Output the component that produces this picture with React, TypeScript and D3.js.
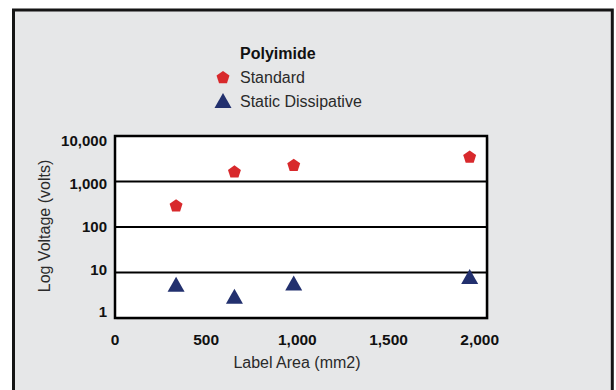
import * as d3 from 'd3';

// Values
const labelAreas = [335, 655, 980, 1945];
const standardVolts = [300, 1675, 2330, 3540];
const dissipativeVolts = [5.5, 3, 5.9, 8.2];
const xTicks = [0, 500, 1000, 1500, 2000];
const yTicks = [1, 10, 100, 1000, 10000];
const legendTitle = 'Polyimide';
const seriesNames = ['Standard', 'Static Dissipative'];

const W = 616;
const H = 390;
const plot = { left: 115, top: 136, right: 487, bottom: 318 };
const RED = '#d8292c';
const NAVY = '#22306e';
const FONT = '"Liberation Sans", Arial, Helvetica, sans-serif';

// Custom symbol shapes (size is used as a radius / half width)
const pentagon = {
  draw(ctx: any, r: number) {
    for (let i = 0; i < 5; i++) {
      const a = -Math.PI / 2 + (i * 2 * Math.PI) / 5;
      const px = r * Math.cos(a);
      const py = r * Math.sin(a) + r * 0.1;
      if (i === 0) ctx.moveTo(px, py);
      else ctx.lineTo(px, py);
    }
    ctx.closePath();
  },
};
const triangle = {
  draw(ctx: any, r: number) {
    const h = r * 0.88;
    ctx.moveTo(0, -h);
    ctx.lineTo(r, h);
    ctx.lineTo(-r, h);
    ctx.closePath();
  },
};

export default function App() {
  const x = d3.scaleLinear().domain([0, 2040]).range([plot.left, plot.right]);
  const y = d3.scaleLog().domain([1, 10000]).range([plot.bottom, plot.top]);
  // tick labels sit a little inside the decade lines in the original
  const yLabel = y.copy().range([312, 140.5]);
  const fmt = d3.format(',');

  const pentPath = d3.symbol().type(pentagon as any).size(6.8)() as string;
  const triPath = d3.symbol().type(triangle as any).size(8.5)() as string;

  return (
    <svg
      width={W}
      height={H}
      style={{ position: 'absolute', left: 0, top: 0, background: '#fff' }}
      fontFamily={FONT}
    >
      {/* outer panel */}
      <rect x={13.5} y={10} width={598.8} height={400} fill="#e6e7e8" stroke="#151515" strokeWidth={3} />

      {/* legend */}
      <text x={240} y={58.5} fontSize={16} fontWeight="bold" fill="#111">
        {legendTitle}
      </text>
      <path d={pentPath} transform="translate(223,77)" fill={RED} />
      <text x={240} y={83} fontSize={16} fill="#2a2a2a">
        {seriesNames[0]}
      </text>
      <path d={triPath} transform="translate(223,100.5)" fill={NAVY} />
      <text x={240} y={107} fontSize={16} fill="#2a2a2a">
        {seriesNames[1]}
      </text>

      {/* plot area */}
      <rect
        x={plot.left + 1.5}
        y={plot.top + 1.5}
        width={plot.right - plot.left}
        height={plot.bottom - plot.top}
        fill="#b8b8b8"
      />
      <rect
        x={plot.left}
        y={plot.top}
        width={plot.right - plot.left}
        height={plot.bottom - plot.top}
        fill="#fff"
      />
      {yTicks.slice(1, -1).map((t) => (
        <line key={t} x1={plot.left} x2={plot.right} y1={y(t)} y2={y(t)} stroke="#000" strokeWidth={2} />
      ))}
      <rect
        x={plot.left}
        y={plot.top}
        width={plot.right - plot.left}
        height={plot.bottom - plot.top}
        fill="none"
        stroke="#000"
        strokeWidth={2.5}
      />

      {/* y tick labels */}
      {yTicks.map((t) => (
        <text
          key={t}
          x={107}
          y={yLabel(t)}
          dy="0.36em"
          textAnchor="end"
          fontSize={15}
          fontWeight="bold"
          fill="#111"
        >
          {fmt(t)}
        </text>
      ))}

      {/* x tick labels */}
      {xTicks.map((t) => (
        <text key={t} x={x(t)} y={345} textAnchor="middle" fontSize={15.5} fontWeight="bold" fill="#111">
          {fmt(t)}
        </text>
      ))}

      {/* axis titles */}
      <text x={297} y={367.5} textAnchor="middle" fontSize={16} fill="#2a2a2a">
        Label Area (mm2)
      </text>
      <text
        transform="translate(50,226) rotate(-90)"
        textAnchor="middle"
        fontSize={16}
        fill="#2a2a2a"
      >
        Log Voltage (volts)
      </text>

      {/* data points */}
      {labelAreas.map((a, i) => (
        <path key={'s' + i} d={pentPath} transform={`translate(${x(a)},${y(standardVolts[i])})`} fill={RED} />
      ))}
      {labelAreas.map((a, i) => (
        <path key={'d' + i} d={triPath} transform={`translate(${x(a)},${y(dissipativeVolts[i])})`} fill={NAVY} />
      ))}
    </svg>
  );
}
